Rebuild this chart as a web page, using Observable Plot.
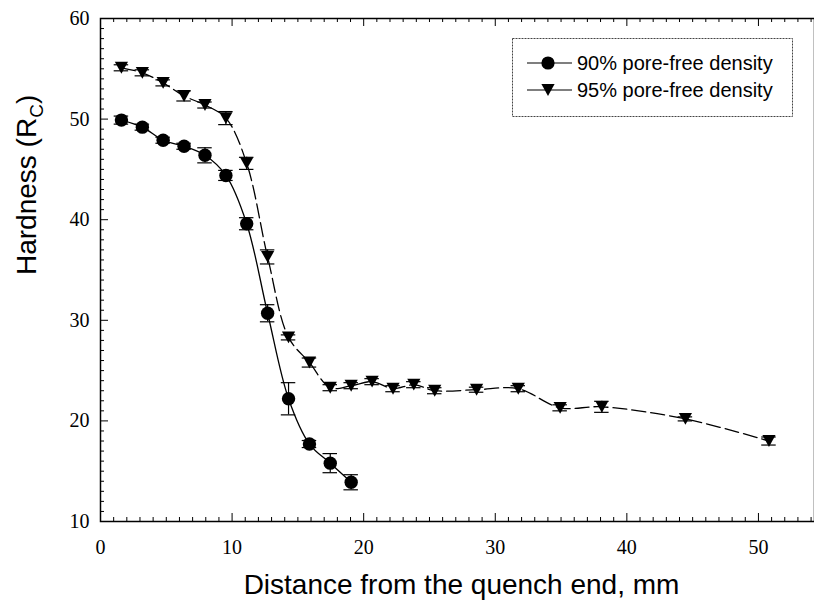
<!DOCTYPE html>
<html>
<head>
<meta charset="utf-8">
<script src="https://cdn.jsdelivr.net/npm/d3@7"></script>
<script src="https://cdn.jsdelivr.net/npm/@observablehq/plot@0.6"></script>
<style>
  html, body { margin: 0; padding: 0; background: #fff; }
  #chart svg { display: block; }
</style>
</head>
<body>
<div id="chart"></div>
<script>
// ---- data ----
const distance90 = [1.59, 3.18, 4.76, 6.35, 7.94, 9.53, 11.11, 12.70, 14.29, 15.88, 17.46, 19.05];
const hardness90 = [49.9, 49.2, 47.9, 47.3, 46.4, 44.4, 39.6, 30.7, 22.2, 17.7, 15.8, 13.9];
const error90    = [0.4, 0.3, 0.3, 0.3, 0.75, 0.5, 0.6, 0.85, 1.6, 0.35, 0.95, 0.75];

const distance95 = [1.59, 3.18, 4.76, 6.35, 7.94, 9.53, 11.11, 12.70, 14.29, 15.88, 17.46, 19.05,
                    20.64, 22.23, 23.81, 25.40, 28.58, 31.75, 34.93, 38.10, 44.45, 50.80];
const hardness95 = [55.1, 54.6, 53.6, 52.3, 51.4, 50.1, 45.6, 36.3, 28.3, 25.8, 23.3, 23.5,
                    23.9, 23.2, 23.6, 23.0, 23.1, 23.2, 21.3, 21.4, 20.2, 18.0];
const error95    = [0.3, 0.3, 0.3, 0.5, 0.3, 0.65, 0.6, 0.7, 0.25, 0.45, 0.3, 0.3,
                    0.3, 0.3, 0.3, 0.3, 0.25, 0.3, 0.3, 0.55, 0.2, 0.4];

const seriesNames = ["90% pore-free density", "95% pore-free density"];
const xMajorTicks = [0, 10, 20, 30, 40, 50];
const yMajorTicks = [10, 20, 30, 40, 50, 60];
const xTitle = "Distance from the quench end, mm";
const yTitle = "Hardness (R";
const yTitleSub = "C";

// ---- tables ----
const s90 = distance90.map((x, i) => ({x, y: hardness90[i], e: error90[i]}));
const s95 = distance95.map((x, i) => ({x, y: hardness95[i], e: error95[i]}));
const xMinorTicks = d3.range(1, 55, 1).filter(v => v % 10 !== 0);
const yMinorTicks = d3.range(11, 60, 1).filter(v => v % 10 !== 0);

const xDomain = [0, 54.26], yDomain = [10, 60];
const W = 814, H = 610, ML = 100, MR = 0, MT = 18, MB = 89;
const pxPerX = (W - ML - MR) / (xDomain[1] - xDomain[0]);
const pxPerY = (H - MT - MB) / (yDomain[1] - yDomain[0]);

const triangleDown = {
  draw(ctx, size) {
    const r = Math.sqrt(size / Math.PI);
    ctx.moveTo(-r, -0.9 * r);
    ctx.lineTo(r, -0.9 * r);
    ctx.lineTo(0, 0.9 * r);
    ctx.closePath();
  }
};

const tickFont = {fontFamily: "Liberation Serif", fontSize: 20};
const capHalf = 0.55;

function errorMarks(data) {
  return [
    Plot.ruleX(data, {x: "x", y1: d => d.y - d.e, y2: d => d.y + d.e, stroke: "black", strokeWidth: 1.2}),
    Plot.ruleY(data, {y: d => d.y - d.e, x1: d => d.x - capHalf, x2: d => d.x + capHalf, stroke: "black", strokeWidth: 1.2}),
    Plot.ruleY(data, {y: d => d.y + d.e, x1: d => d.x - capHalf, x2: d => d.x + capHalf, stroke: "black", strokeWidth: 1.2})
  ];
}

// inward ticks on bottom, top and left (lengths in px converted to data units)
function xTicks(values, len) {
  const dy = len / pxPerY;
  return [
    Plot.ruleX(values, {x: d => d, y1: () => yDomain[0], y2: () => yDomain[0] + dy, stroke: "black", strokeWidth: 1}),
    Plot.ruleX(values, {x: d => d, y1: () => yDomain[1], y2: () => yDomain[1] - dy, stroke: "black", strokeWidth: 1})
  ];
}
function yTicks(values, len) {
  const dx = len / pxPerX;
  return [Plot.ruleY(values, {y: d => d, x1: () => xDomain[0], x2: () => xDomain[0] + dx, stroke: "black", strokeWidth: 1})];
}

const chart = Plot.plot({
  width: W,
  height: H,
  marginLeft: ML,
  marginRight: MR,
  marginTop: MT,
  marginBottom: MB,
  style: {background: "white", color: "black"},
  x: {domain: xDomain},
  y: {domain: yDomain},
  marks: [
    // lines
    Plot.line(s95, {x: "x", y: "y", curve: "catmull-rom", stroke: "black", strokeWidth: 1.3, strokeDasharray: "14,5"}),
    Plot.line(s90, {x: "x", y: "y", curve: "catmull-rom", stroke: "black", strokeWidth: 1.3}),
    ...errorMarks(s95),
    ...errorMarks(s90),
    Plot.dot(s95, {x: "x", y: "y", r: 6.6, symbol: triangleDown, fill: "black", stroke: "none"}),
    Plot.dot(s90, {x: "x", y: "y", r: 6.7, symbol: "circle", fill: "black", stroke: "none"}),
    // ticks
    ...xTicks(xMajorTicks, 8),
    ...xTicks(xMinorTicks, 4),
    ...yTicks(yMajorTicks, 8),
    ...yTicks(yMinorTicks, 4),
    // tick labels
    Plot.axisX({anchor: "bottom", ticks: xMajorTicks, tickSize: 0, tickPadding: 18, label: null, ...tickFont}),
    Plot.axisY({anchor: "left", ticks: yMajorTicks, tickSize: 0, tickPadding: 11, label: null, ...tickFont}),
    Plot.frame({stroke: "black", strokeWidth: 1.5}),
    // axis titles
    Plot.text([xTitle], {text: d => d, frameAnchor: "bottom", dy: 72, dx: 4, fontFamily: "Liberation Sans", fontSize: 28, fill: "black"}),
    Plot.text([yTitle], {text: d => d, frameAnchor: "left", dx: -73, dy: 5, rotate: -90, fontFamily: "Liberation Sans", fontSize: 28, fill: "black", className: "ytitle"})
  ]
});

document.getElementById("chart").appendChild(chart);

// subscript on the y title
const svg = d3.select(chart);
svg.selectAll("g.ytitle text").each(function() {
  const t = d3.select(this);
  t.text(yTitle);
  t.append("tspan").attr("font-size", 19).attr("dy", 7).text(yTitleSub);
  t.append("tspan").attr("dy", -7).text(")");
});

// legend
const lg = svg.append("g").attr("class", "legend").attr("text-anchor", "start");
lg.append("rect").attr("x", 512.5).attr("y", 38.5).attr("width", 280).attr("height", 78)
  .attr("fill", "white").attr("stroke", "#444").attr("stroke-width", 1).attr("stroke-dasharray", "2,1");
const rows = [
  {name: seriesNames[0], y: 63, sym: d3.symbolCircle},
  {name: seriesNames[1], y: 90, sym: triangleDown}
];
rows.forEach(r => {
  lg.append("line").attr("x1", 527).attr("x2", 572).attr("y1", r.y).attr("y2", r.y)
    .attr("stroke", "black").attr("stroke-width", 1.2);
  lg.append("path").attr("transform", `translate(548,${r.y})`)
    .attr("d", d3.symbol(r.sym, Math.PI * 6.6 * 6.6)()).attr("fill", "black");
  lg.append("text").attr("x", 577).attr("y", r.y).attr("dy", "0.35em").attr("text-anchor", "start")
    .attr("font-family", "Liberation Sans").attr("font-size", 20).attr("fill", "black").text(r.name);
});
</script>
</body>
</html>
